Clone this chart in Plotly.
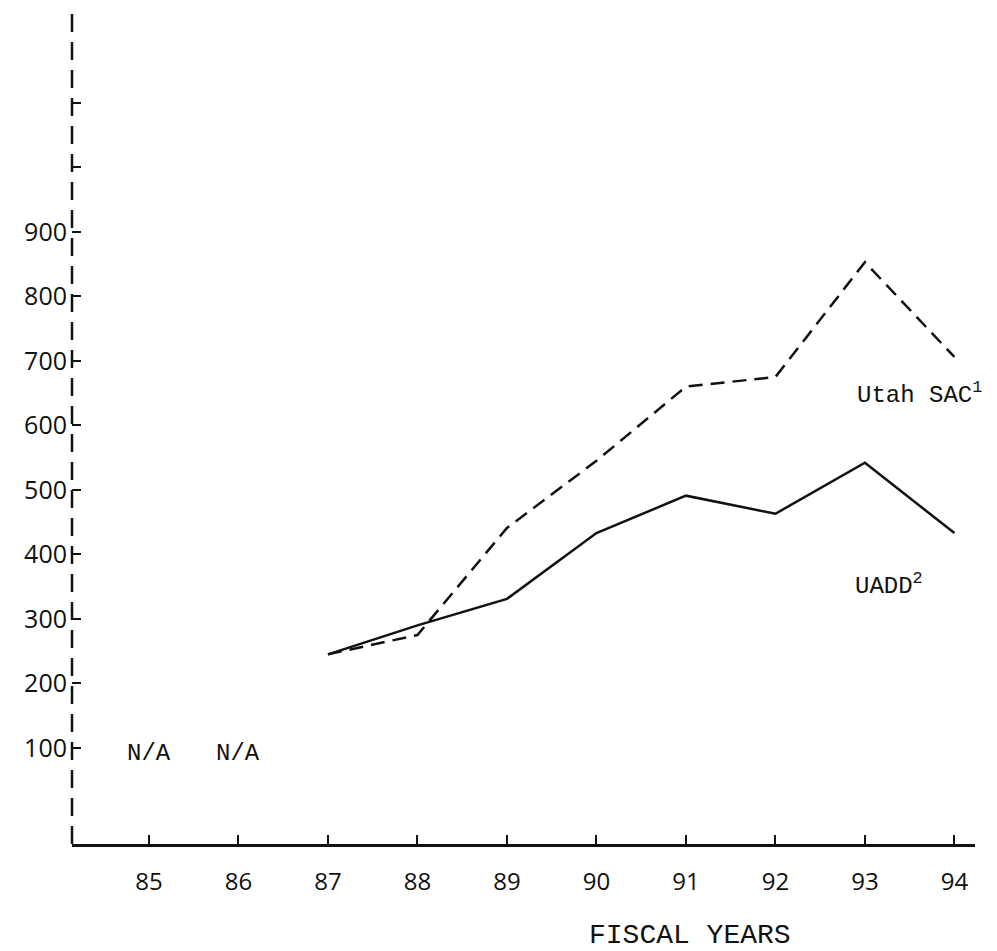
import plotly.graph_objects as go

years = [87, 88, 89, 90, 91, 92, 93, 94]
utah_sac = [245, 275, 441, 545, 660, 675, 853, 706]
uadd = [245, 290, 331, 433, 491, 463, 542, 433]

x_ticks = [85, 86, 87, 88, 89, 90, 91, 92, 93, 94]
x_labels = ["85", "86", "87", "88", "89", "90", "91", "92", "93", "94"]
y_ticks = [100, 200, 300, 400, 500, 600, 700, 800, 900, 1000, 1100]
y_labels = ["100", "200", "300", "400", "500", "600", "700", "800", "900", "", ""]
na_years = [85, 86]

mono = "Liberation Mono"
sans = "Open Sans"

fig = go.Figure()
fig.add_trace(go.Scatter(x=years, y=utah_sac, mode="lines", name="Utah SAC",
                         line=dict(color="#111111", width=2.5, dash="14px,8px")))
fig.add_trace(go.Scatter(x=years, y=uadd, mode="lines", name="UADD",
                         line=dict(color="#111111", width=2.5)))

for yr in na_years:
    fig.add_annotation(x=yr, y=92, text="N/A", showarrow=False,
                       font=dict(family=mono, size=24, color="#111111"),
                       xanchor="center", yanchor="middle")

fig.add_annotation(x=92.89, y=650, text="Utah SAC<sup>1</sup>", showarrow=False,
                   font=dict(family=mono, size=24, color="#111111"),
                   xanchor="left", yanchor="middle")
fig.add_annotation(x=92.87, y=353, text="UADD<sup>2</sup>", showarrow=False,
                   font=dict(family=mono, size=24, color="#111111"),
                   xanchor="left", yanchor="middle")
fig.add_annotation(xref="paper", yref="paper", x=0.684, y=-0.109,
                   text="FISCAL YEARS", showarrow=False,
                   font=dict(family=mono, size=28, color="#111111"),
                   xanchor="center", yanchor="middle")

# dashed vertical y-axis line
fig.add_shape(type="line", xref="x domain", yref="y domain",
              x0=0, x1=0, y0=0, y1=1,
              line=dict(color="#111111", width=2.5, dash="18px,10px"))

fig.update_layout(
    width=989, height=943,
    margin=dict(l=64, r=22, t=0, b=107),
    paper_bgcolor="white", plot_bgcolor="white",
    showlegend=False,
    xaxis=dict(range=[84.14, 94.23], tickvals=x_ticks, ticktext=x_labels,
               showgrid=False, zeroline=False, showline=True,
               linecolor="#111111", linewidth=2.5,
               ticks="inside", ticklen=9, tickwidth=2, tickcolor="#111111",
               tickfont=dict(family=sans, size=24, color="#111111"),
               ticklabelstandoff=14),
    yaxis=dict(range=[-49, 1247], tickvals=y_ticks, ticktext=y_labels,
               showgrid=False, zeroline=False, showline=False,
               ticks="inside", ticklen=9, tickwidth=2, tickcolor="#111111",
               tickfont=dict(family=sans, size=25, color="#111111"),
               ticklabelstandoff=4),
)

fig.write_html("out.html")
